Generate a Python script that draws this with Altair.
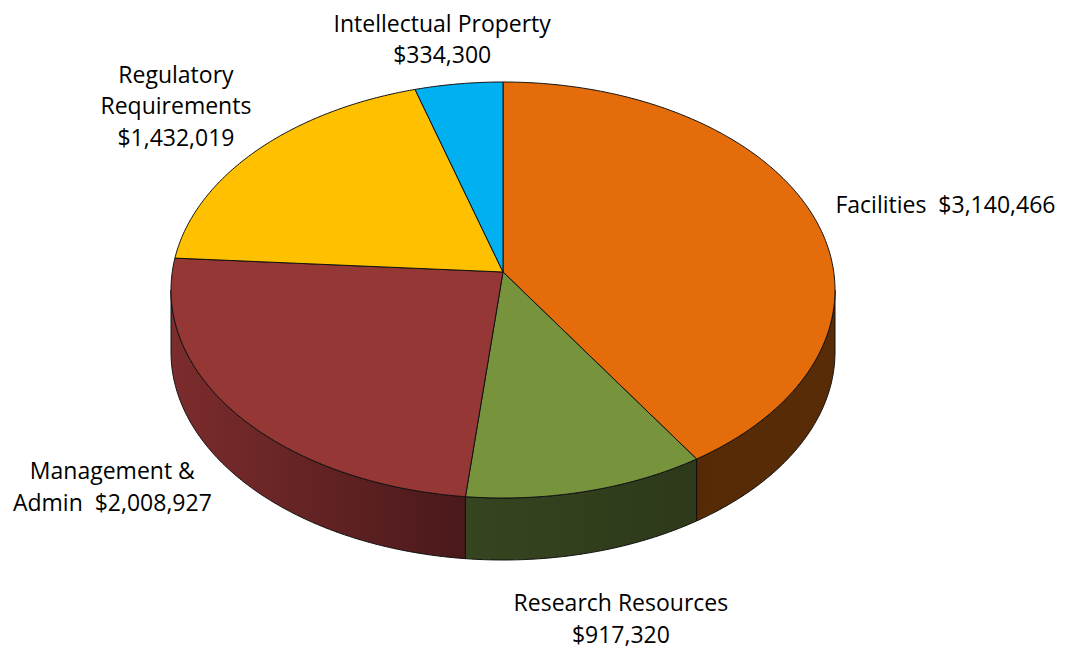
import math
import altair as alt
import pandas as pd

# ---------------- data ----------------
categories = ["Facilities", "Research Resources", "Management & Admin",
              "Regulatory Requirements", "Intellectual Property"]
values = [3140466, 917320, 2008927, 1432019, 334300]
label_texts = ["Facilities\u00a0 $3,140,466",
               "Research Resources\n$917,320",
               "Management &\nAdmin\u00a0 $2,008,927",
               "Regulatory\nRequirements\n$1,432,019",
               "Intellectual Property\n$334,300"]
top_colors = ["#E46C0A", "#77933C", "#953735", "#FFC000", "#00B0F0"]
# side-wall gradient (left stop, right stop) for each slice
wall_colors = [("#552a05", "#582c06"), ("#364520", "#2d391a"),
               ("#7c2c2c", "#4a191b"), ("#7a5c00", "#7a5c00"),
               ("#005a7a", "#005a7a")]

# ---------------- layout (pixels) ----------------
W, H = 1056, 641
X0, Y0 = 8, 8
CX, CY = 503, 290          # ellipse centre of top face
AX, BY = 332, 208          # ellipse radii
APEX_Y = 272               # apex of slices (perspective)
DEPTH = 62                 # thickness of the pie
LINE_H = 31.5
label_kx = [1.40, 1.41, 1.48, 1.32, 1.37]
label_ky = [1.32, 1.64, 1.57, 1.32, 1.21]


def rim(t_deg, dy=0.0):
    t = math.radians(t_deg)
    return CX + AX * math.sin(t), CY - BY * math.cos(t) + dy


total = float(sum(values))
starts, ends = [], []
acc = 0.0
for v in values:
    starts.append(acc / total * 360.0)
    acc += v
    ends.append(acc / total * 360.0)

# top faces
top_rows = []
for i, cat in enumerate(categories):
    t0, t1 = starts[i], ends[i]
    n = max(4, int((t1 - t0) / 0.5))
    pts = [(CX, APEX_Y)]
    for k in range(n + 1):
        pts.append(rim(t0 + (t1 - t0) * k / n))
    pts.append((CX, APEX_Y))
    for j, (x, y) in enumerate(pts):
        top_rows.append({"id": cat, "ord": j, "x": x, "y": y, "fill": top_colors[i]})
top_df = pd.DataFrame(top_rows)

xs = alt.Scale(domain=[X0, X0 + W], nice=False, zero=False)
ys = alt.Scale(domain=[Y0, Y0 + H], nice=False, zero=False, reverse=True)
X = alt.X("x:Q", scale=xs, axis=None)
Y = alt.Y("y:Q", scale=ys, axis=None)

# side walls: one polygon per visible slice, with a horizontal gradient
wall_layers = []
for i, cat in enumerate(categories):
    a0, a1 = max(starts[i], 90.0), min(ends[i], 270.0)
    if a1 <= a0:
        continue
    m = max(4, int((a1 - a0) / 0.5))
    pts = [rim(a0 + (a1 - a0) * k / m) for k in range(m + 1)]
    pts += [rim(a0 + (a1 - a0) * k / m, DEPTH) for k in range(m, -1, -1)]
    pts.append(pts[0])
    df = pd.DataFrame([{"id": cat, "ord": j, "x": x, "y": y}
                       for j, (x, y) in enumerate(pts)])
    c_left, c_right = wall_colors[i]
    grad = alt.LinearGradient(
        gradient="linear", x1=0, y1=0, x2=1, y2=0,
        stops=[alt.GradientStop(color=c_left, offset=0),
               alt.GradientStop(color=c_right, offset=1)])
    wall_layers.append(
        alt.Chart(df).mark_line(filled=True, fill=grad, stroke="#111111",
                                strokeWidth=1, strokeJoin="round").encode(
            x=X, y=Y, order="ord:Q", detail="id:N"))

tops = alt.Chart(top_df).mark_line(filled=True, stroke="#111111", strokeWidth=1,
                                   strokeJoin="round").encode(
    x=X, y=Y, order="ord:Q", detail="id:N",
    color=alt.Color("fill:N", scale=None),
)

# labels
lab_rows = []
for i, cat in enumerate(categories):
    mid = math.radians((starts[i] + ends[i]) / 2)
    n_lines = label_texts[i].count("\n") + 1
    lab_rows.append({"label": label_texts[i],
                     "x": CX + AX * label_kx[i] * math.sin(mid),
                     "y": CY - BY * label_ky[i] * math.cos(mid)
                          - (n_lines - 1) * LINE_H / 2})
lab_df = pd.DataFrame(lab_rows)

labels = alt.Chart(lab_df).mark_text(
    font="Open Sans", fontSize=23, lineBreak="\n", lineHeight=LINE_H,
    align="center", baseline="middle", color="#000000",
).encode(x=X, y=Y, text="label:N")

chart = alt.layer(*wall_layers, tops, labels).properties(
    width=W, height=H, padding=0, autosize=alt.AutoSizeParams(type="none"),
).configure_view(strokeWidth=0)

chart.save("out.html", embed_options={"renderer": "svg", "actions": False})
